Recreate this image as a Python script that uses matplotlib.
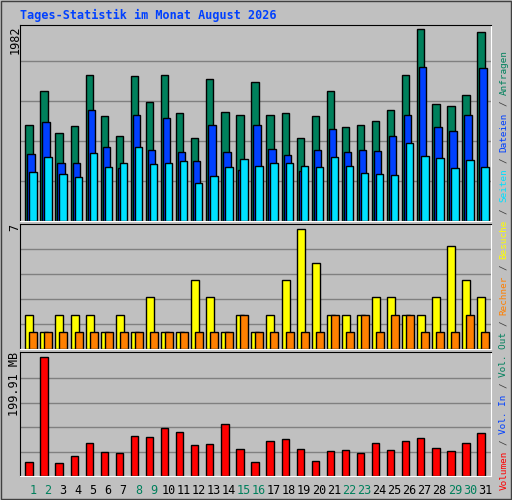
import matplotlib
matplotlib.use("Agg")
import matplotlib.pyplot as plt
import numpy as np

days = list(range(1, 32))
anfragen = [971,1315,889,960,1478,1062,859,1467,1204,1478,1092,839,1437,1102,1072,1406,
            1072,1092,839,1062,1315,950,971,1011,1122,1478,1944,1183,1163,1274,1913]
dateien = [676,1000,585,585,1122,747,534,1072,717,1041,697,605,971,697,514,971,
           727,666,504,717,930,697,717,707,859,1072,1558,950,909,1072,1548]
seiten = [494,646,473,443,686,545,585,747,575,585,605,382,453,545,626,555,
          585,585,555,545,646,555,484,473,463,788,656,636,534,616,545]
besuche = [2,1,2,2,2,1,2,1,3,1,1,4,3,1,2,1,2,4,7,5,2,2,2,3,3,2,2,3,6,4,3]
rechner = [1,1,1,1,1,1,1,1,1,1,1,1,1,1,2,1,1,1,1,1,2,1,2,1,2,2,1,1,1,2,1]
volumen = [24,199.91,22.3,34,55.8,40.7,39,67.6,65.9,81,74.3,52.5,54.2,87.7,45.8,24,
           59.2,62.5,45.8,25.7,42.4,44.1,39,55.8,44.1,59.2,64.2,47.4,42.4,55.8,72.6]
weekend = [1,2,8,9,15,16,22,23,29,30]

BG = "#c0c0c0"
W, H = 512, 500
fig = plt.figure(figsize=(W/100, H/100), dpi=100, facecolor=BG)
mono = "DejaVu Sans Mono"

def ax_px(x0, y0, x1, y1):
    return fig.add_axes([x0/W, 1-y1/H, (x1-x0)/W, (y1-y0)/H])

xl = (0.148, 31.4)
def style(ax, ymax, step):
    ax.set_facecolor(BG)
    ax.set_xlim(*xl); ax.set_ylim(0, ymax)
    for k in range(1, 5):
        ax.axhline(k*step, color="#808080", lw=1, zorder=0)
    ax.set_xticks([]); ax.set_yticks([])
    for s in ax.spines.values():
        s.set_color("black")
    ax.spines["bottom"].set_color("white"); ax.spines["right"].set_color("white")

x = np.array(days, dtype=float)
ekw = dict(edgecolor="black", linewidth=1, align="edge")

ax1 = ax_px(20, 25, 491, 221)
style(ax1, 1982, 1982*40/196)
ax1.bar(x-0.5, anfragen, 0.487, color="#00805c", **ekw)
ax1.bar(x-0.5+0.133, dateien, 0.487, color="#0040ff", **ekw)
ax1.bar(x-0.5+0.266, seiten, 0.487, color="#00e0ff", **ekw)

ax2 = ax_px(20, 224, 491, 349)
style(ax2, 7*125/120.3, 25/17.19)
ax2.bar(x-0.5, besuche, 0.53, color="#ffff00", **ekw)
ax2.bar(x-0.5+0.266, rechner, 0.53, color="#ff8000", **ekw)

ax3 = ax_px(20, 352, 491, 476)
style(ax3, 124*1.676, 24.5*1.676)
ax3.bar(x-0.5, volumen, 0.487, color="#ff0000", **ekw)

for d in days:
    fig.text((20 + (d - xl[0])*15.07)/W, 1-491/H, str(d), ha="center", va="center",
             fontsize=8.5, family=mono, color="#00805c" if d in weekend else "black")

fig.text(20/W, 1-15/H, "Tages-Statistik im Monat August 2026", fontsize=8.5,
         family=mono, weight="bold", color="#0040ff", va="center")
fig.text(15/W, 1-25/H, "1982", rotation=90, fontsize=8.5, family=mono, ha="center", va="top")
fig.text(15/W, 1-224/H, "7", rotation=90, fontsize=8.5, family=mono, ha="center", va="top")
fig.text(15/W, 1-352/H, "199.91 MB", rotation=90, fontsize=8.5, family=mono, ha="center", va="top")

parts = [("Volumen", "#ff0000"), (" / ", "#404040"), ("Vol. In", "#0040ff"), (" / ", "#404040"),
         ("Vol. Out", "#00805c"), (" / ", "#404040"), ("Rechner", "#ff8000"), (" / ", "#404040"),
         ("Besuche", "#ffff00"), (" / ", "#404040"), ("Seiten", "#00e0ff"), (" / ", "#404040"),
         ("Dateien", "#0040ff"), (" / ", "#404040"), ("Anfragen", "#00805c")]
y = 490.0
cw = 5.64
for t, c in parts:
    if t.strip():
        off = len(t) - len(t.lstrip())
        fig.text(504/W, 1-(y - off*cw)/H, t.strip(), rotation=90, fontsize=6.75, family=mono,
                 color=c, ha="center", va="bottom")
    else:
        fig.text(504/W, 1-(y - cw)/H, "/", rotation=90, fontsize=6.75, family=mono,
                 color=c, ha="center", va="bottom")
    y -= len(t)*cw

fig.add_artist(plt.Rectangle((1/W, 1/H), 1-2/W, 1-2/H, transform=fig.transFigure,
                             fill=False, edgecolor="#404040", lw=1))
fig.savefig("out.png", dpi=100, facecolor=BG)
